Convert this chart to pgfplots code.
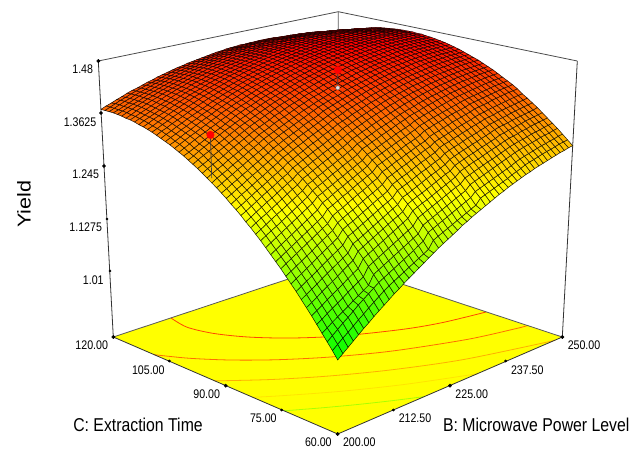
\documentclass[border=0pt]{standalone}
\usepackage{fontspec}
\setmainfont{Liberation Sans}
\usepackage{pgfplots}
\pgfplotsset{compat=1.18}
\pgfplotsset{colormap={ds}{rgb255(0cm)=(0,255,0); rgb255(1cm)=(255,255,0); rgb255(2cm)=(255,0,0)}}
\newcommand{\tl}[1]{\scalebox{.85}[1]{\fontsize{12.5}{13}\selectfont #1}}
\newcommand{\ttl}[1]{\scalebox{.85}[1]{\fontsize{18.6}{20}\selectfont #1}}
\begin{document}
\begin{tikzpicture}[declare function={
 dd(\uu,\vv,\ww)=1+.15*\uu+.15*\vv-.072*\ww;
 px(\uu,\vv,\ww)=337.7+(258.3*\uu-258.1*\vv)/dd(\uu,\vv,\ww);
 py(\uu,\vv,\ww)=434-(111.2*\uu+111.55*\vv+292*\ww)/dd(\uu,\vv,\ww);
}]
\path[use as bounding box] (0,0) rectangle (643pt,448pt);
\begin{axis}[at={(0,0)},anchor=south west,scale only axis,width=643pt,height=448pt,
 xmin=0,xmax=643,ymin=0,ymax=448,y dir=reverse,hide axis,clip=false,
 colormap name=ds,point meta min=1.007,point meta max=1.473]
% floor
\addplot[fill={rgb,255:red,255;green,255;blue,0},draw=none] coordinates {(113.3,337)(337.5,262.7)(562.3,337)(337.7,434)} --cycle;
% contours on the floor: u=(B-200)/50, v=(C-60)/60
\addplot[smooth,line width=.8pt,color={rgb,255:red,170;green,255;blue,0}] table[x expr={px(\thisrow{u},\thisrow{v},0)},y expr={py(\thisrow{u},\thisrow{v},0)}] {
u v
.3547 0
.2608 .05
.1747 .1
.0954 .15
.0214 .2
0 .2155
};
\addplot[smooth,line width=.8pt,color={rgb,255:red,255;green,228;blue,0}] table[x expr={px(\thisrow{u},\thisrow{v},0)},y expr={py(\thisrow{u},\thisrow{v},0)}] {
u v
.5905 0
.3775 .1
.2051 .2
.0603 .3
0 .3465
};
\addplot[smooth,line width=.8pt,color={rgb,255:red,255;green,175;blue,0}] table[x expr={px(\thisrow{u},\thisrow{v},0)},y expr={py(\thisrow{u},\thisrow{v},0)}] {
u v
.9648 0
.6464 .1
.4325 .2
.2652 .3
.1283 .4
.0142 .5
0 .5135
};
\addplot[smooth,line width=.8pt,color={rgb,255:red,255;green,110;blue,0}] table[x expr={px(\thisrow{u},\thisrow{v},0)},y expr={py(\thisrow{u},\thisrow{v},0)}] {
u v
1 .1408
.9541 .15
.7742 .2
.5401 .3
.3719 .4
.2408 .5
.1372 .6
.0567 .7
0 .796
};
\addplot[smooth,line width=.8pt,color={rgb,255:red,255;green,70;blue,0}] table[x expr={px(\thisrow{u},\thisrow{v},0)},y expr={py(\thisrow{u},\thisrow{v},0)}] {
u v
1 .3124
.8294 .35
.6955 .4
.5144 .5
.3892 .6
.3008 .7
.2436 .8
.2186 .9
.2339 1
};
% frame behind the surface
\addplot[color=black!65,line width=.8pt] coordinates {(113.3,337)(337.5,262.7)(562.3,337)};
\addplot[color=black!65,line width=.8pt] coordinates {(338.3,11.7)(337.6,262.7)};
\addplot[color=black!70,line width=.8pt] coordinates {(98.3,61)(338.3,11.7)(577.3,61)};
\addplot[color=black!80,line width=.8pt] coordinates {(98.3,61)(113.3,337)(337.7,434)(562.3,337)(577.3,61)};
% surface: one Yield per line, 51 per row; rows from C=120 down to C=60, in each row B from 200 to 250
\addplot[surf,shader=faceted,mesh/rows=51,mesh/cols=51,faceted color=mapped color!12!black,line width=.5pt,
 point meta=\thisrow{Y}] table[
 x expr={px(mod(\coordindex,51)/50,1-floor((\coordindex+.5)/51)/50,(\thisrow{Y}-.85)/.63)},
 y expr={py(mod(\coordindex,51)/50,1-floor((\coordindex+.5)/51)/50,(\thisrow{Y}-.85)/.63)}] {
Y
% C=120.0
1.373
1.378
1.382
1.387
1.391
1.396
1.400
1.403
1.407
1.411
%
1.414
1.418
1.421
1.424
1.427
1.430
1.432
1.435
1.437
1.439
%
1.441
1.443
1.445
1.447
1.448
1.450
1.451
1.452
1.453
1.453
%
1.454
1.454
1.455
1.455
1.455
1.455
1.454
1.454
1.453
1.453
%
1.452
1.451
1.450
1.448
1.447
1.445
1.444
1.442
1.440
1.438
1.436
% C=118.8
1.373
1.378
1.383
1.388
1.392
1.397
1.401
1.405
1.409
1.412
%
1.415
1.419
1.423
1.426
1.429
1.432
1.434
1.437
1.439
1.441
%
1.443
1.445
1.447
1.449
1.451
1.452
1.453
1.454
1.455
1.456
%
1.457
1.457
1.457
1.458
1.458
1.458
1.457
1.457
1.457
1.456
%
1.456
1.455
1.454
1.453
1.451
1.450
1.449
1.447
1.445
1.443
1.441
% C=117.6
1.373
1.378
1.383
1.388
1.392
1.397
1.401
1.405
1.409
1.413
%
1.416
1.420
1.423
1.427
1.430
1.433
1.435
1.438
1.441
1.443
%
1.445
1.447
1.449
1.451
1.453
1.454
1.455
1.456
1.457
1.458
%
1.459
1.460
1.460
1.460
1.460
1.460
1.460
1.460
1.460
1.460
%
1.459
1.458
1.457
1.456
1.455
1.454
1.452
1.451
1.449
1.447
1.445
% C=116.4
1.373
1.377
1.382
1.387
1.392
1.397
1.401
1.405
1.409
1.413
%
1.417
1.421
1.424
1.427
1.431
1.434
1.436
1.439
1.442
1.444
%
1.446
1.449
1.451
1.452
1.454
1.456
1.457
1.458
1.460
1.461
%
1.462
1.462
1.463
1.463
1.463
1.463
1.463
1.463
1.463
1.463
%
1.463
1.462
1.461
1.460
1.458
1.457
1.456
1.454
1.453
1.451
1.449
% C=115.2
1.372
1.377
1.382
1.387
1.391
1.396
1.401
1.405
1.409
1.413
%
1.417
1.421
1.424
1.428
1.431
1.434
1.437
1.440
1.443
1.445
%
1.447
1.450
1.452
1.454
1.456
1.457
1.459
1.460
1.461
1.462
%
1.464
1.464
1.465
1.465
1.465
1.466
1.466
1.466
1.466
1.465
%
1.465
1.464
1.463
1.462
1.461
1.460
1.459
1.458
1.456
1.454
1.453
% C=114.0
1.371
1.376
1.381
1.386
1.391
1.396
1.400
1.405
1.409
1.413
%
1.417
1.421
1.424
1.428
1.431
1.435
1.438
1.441
1.443
1.446
%
1.448
1.450
1.453
1.455
1.457
1.458
1.460
1.461
1.463
1.464
%
1.465
1.466
1.467
1.467
1.468
1.468
1.468
1.468
1.468
1.468
%
1.468
1.467
1.466
1.465
1.464
1.463
1.462
1.461
1.459
1.458
1.456
% C=112.8
1.369
1.374
1.380
1.385
1.390
1.395
1.399
1.404
1.408
1.412
%
1.416
1.420
1.424
1.428
1.431
1.434
1.438
1.441
1.443
1.446
%
1.448
1.451
1.453
1.455
1.457
1.459
1.461
1.463
1.464
1.465
%
1.466
1.467
1.468
1.469
1.470
1.470
1.470
1.470
1.470
1.470
%
1.470
1.469
1.469
1.468
1.467
1.466
1.465
1.463
1.462
1.461
1.459
% C=111.6
1.368
1.373
1.378
1.383
1.388
1.393
1.398
1.403
1.407
1.412
%
1.415
1.420
1.424
1.427
1.431
1.434
1.438
1.441
1.444
1.446
%
1.449
1.451
1.454
1.456
1.458
1.460
1.462
1.463
1.465
1.466
%
1.467
1.469
1.470
1.470
1.471
1.472
1.472
1.472
1.472
1.472
%
1.472
1.472
1.471
1.470
1.469
1.468
1.467
1.466
1.465
1.463
1.462
% C=110.4
1.366
1.371
1.376
1.381
1.386
1.391
1.396
1.401
1.406
1.410
%
1.414
1.419
1.423
1.426
1.430
1.434
1.437
1.440
1.443
1.446
%
1.448
1.451
1.454
1.456
1.458
1.460
1.462
1.463
1.465
1.466
%
1.468
1.469
1.470
1.471
1.472
1.473
1.473
1.474
1.474
1.474
%
1.474
1.473
1.473
1.472
1.471
1.470
1.469
1.468
1.467
1.466
1.465
% C=109.2
1.363
1.369
1.374
1.379
1.384
1.390
1.395
1.399
1.404
1.409
%
1.413
1.417
1.421
1.425
1.429
1.433
1.436
1.439
1.442
1.445
%
1.448
1.451
1.453
1.456
1.458
1.460
1.462
1.464
1.465
1.467
%
1.469
1.470
1.471
1.472
1.473
1.474
1.474
1.475
1.475
1.475
%
1.475
1.475
1.474
1.474
1.473
1.472
1.471
1.470
1.469
1.468
1.467
% C=108.0
1.361
1.366
1.372
1.377
1.382
1.387
1.392
1.397
1.402
1.407
%
1.411
1.415
1.420
1.424
1.428
1.431
1.435
1.438
1.441
1.444
%
1.447
1.450
1.453
1.455
1.458
1.460
1.462
1.464
1.466
1.467
%
1.469
1.470
1.471
1.472
1.473
1.474
1.475
1.475
1.476
1.476
%
1.476
1.476
1.476
1.475
1.474
1.474
1.473
1.472
1.471
1.470
1.469
% C=106.8
1.358
1.363
1.369
1.374
1.380
1.385
1.390
1.395
1.400
1.405
%
1.409
1.414
1.418
1.422
1.426
1.430
1.434
1.437
1.440
1.443
%
1.446
1.449
1.452
1.455
1.457
1.459
1.461
1.463
1.465
1.467
%
1.468
1.470
1.471
1.472
1.473
1.474
1.475
1.476
1.476
1.476
%
1.477
1.477
1.476
1.476
1.476
1.475
1.474
1.474
1.473
1.471
1.470
% C=105.6
1.355
1.360
1.366
1.371
1.377
1.382
1.387
1.392
1.397
1.402
%
1.407
1.411
1.416
1.420
1.424
1.428
1.432
1.435
1.439
1.442
%
1.445
1.448
1.451
1.453
1.456
1.458
1.461
1.463
1.464
1.466
%
1.468
1.469
1.471
1.472
1.473
1.474
1.475
1.475
1.476
1.476
%
1.477
1.477
1.477
1.477
1.476
1.476
1.475
1.474
1.473
1.472
1.471
% C=104.4
1.351
1.357
1.362
1.368
1.373
1.378
1.384
1.389
1.394
1.399
%
1.404
1.408
1.413
1.417
1.421
1.425
1.429
1.433
1.436
1.440
%
1.443
1.446
1.449
1.452
1.454
1.457
1.459
1.461
1.463
1.465
%
1.467
1.468
1.470
1.471
1.472
1.473
1.474
1.475
1.476
1.476
%
1.477
1.477
1.477
1.477
1.477
1.476
1.476
1.475
1.474
1.473
1.472
% C=103.2
1.347
1.353
1.358
1.364
1.369
1.375
1.380
1.385
1.390
1.395
%
1.401
1.405
1.410
1.414
1.418
1.423
1.427
1.431
1.434
1.438
%
1.441
1.444
1.447
1.450
1.453
1.456
1.458
1.460
1.462
1.464
%
1.466
1.468
1.469
1.471
1.472
1.473
1.474
1.475
1.475
1.476
%
1.476
1.477
1.477
1.477
1.477
1.477
1.476
1.475
1.475
1.474
1.473
% C=102.0
1.343
1.349
1.354
1.360
1.365
1.371
1.376
1.382
1.387
1.392
%
1.398
1.402
1.407
1.412
1.416
1.420
1.424
1.428
1.432
1.435
%
1.438
1.442
1.445
1.448
1.451
1.454
1.456
1.458
1.461
1.463
%
1.464
1.466
1.468
1.469
1.471
1.472
1.473
1.474
1.475
1.475
%
1.476
1.476
1.477
1.477
1.477
1.477
1.476
1.476
1.475
1.474
1.473
% C=100.8
1.339
1.344
1.350
1.356
1.361
1.367
1.373
1.378
1.383
1.389
%
1.394
1.399
1.404
1.408
1.413
1.417
1.421
1.425
1.429
1.433
%
1.436
1.440
1.443
1.446
1.449
1.452
1.454
1.457
1.459
1.461
%
1.463
1.465
1.466
1.468
1.469
1.471
1.472
1.473
1.474
1.474
%
1.475
1.475
1.476
1.476
1.476
1.476
1.476
1.475
1.475
1.474
1.473
% C=99.6
1.334
1.340
1.346
1.352
1.357
1.363
1.368
1.374
1.379
1.385
%
1.390
1.395
1.400
1.404
1.409
1.413
1.418
1.422
1.426
1.429
%
1.433
1.437
1.440
1.443
1.446
1.449
1.452
1.454
1.457
1.459
%
1.461
1.463
1.465
1.466
1.468
1.469
1.470
1.471
1.472
1.473
%
1.474
1.475
1.475
1.475
1.476
1.476
1.475
1.475
1.475
1.474
1.473
% C=98.4
1.329
1.335
1.341
1.347
1.353
1.358
1.364
1.369
1.375
1.380
%
1.386
1.391
1.396
1.400
1.405
1.410
1.414
1.418
1.422
1.426
%
1.430
1.433
1.437
1.440
1.443
1.446
1.449
1.452
1.454
1.456
%
1.458
1.460
1.462
1.464
1.466
1.467
1.469
1.470
1.471
1.472
%
1.472
1.473
1.474
1.474
1.474
1.475
1.474
1.474
1.474
1.473
1.472
% C=97.2
1.324
1.329
1.335
1.341
1.347
1.353
1.359
1.364
1.370
1.376
%
1.382
1.387
1.392
1.396
1.401
1.406
1.410
1.414
1.418
1.422
%
1.426
1.430
1.433
1.437
1.440
1.443
1.446
1.449
1.451
1.453
%
1.456
1.458
1.460
1.462
1.463
1.465
1.466
1.468
1.469
1.470
%
1.471
1.472
1.472
1.473
1.473
1.473
1.473
1.473
1.473
1.472
1.472
% C=96.0
1.318
1.324
1.331
1.337
1.343
1.349
1.355
1.361
1.366
1.372
%
1.377
1.382
1.387
1.392
1.397
1.402
1.406
1.410
1.414
1.418
%
1.422
1.426
1.430
1.433
1.436
1.439
1.442
1.445
1.448
1.450
%
1.453
1.455
1.457
1.459
1.461
1.462
1.464
1.465
1.466
1.468
%
1.469
1.469
1.470
1.471
1.471
1.471
1.471
1.471
1.471
1.471
1.470
% C=94.8
1.312
1.319
1.325
1.331
1.337
1.343
1.349
1.355
1.361
1.367
%
1.372
1.377
1.382
1.387
1.392
1.397
1.402
1.406
1.410
1.414
%
1.418
1.422
1.426
1.429
1.433
1.436
1.439
1.442
1.444
1.447
%
1.449
1.452
1.454
1.456
1.458
1.459
1.461
1.462
1.464
1.465
%
1.466
1.467
1.468
1.468
1.469
1.469
1.469
1.469
1.469
1.469
1.469
% C=93.6
1.306
1.312
1.318
1.325
1.331
1.337
1.343
1.349
1.355
1.361
%
1.367
1.372
1.377
1.382
1.387
1.392
1.397
1.401
1.405
1.409
%
1.414
1.417
1.421
1.425
1.428
1.432
1.435
1.438
1.440
1.443
%
1.446
1.448
1.450
1.452
1.454
1.456
1.458
1.459
1.461
1.462
%
1.464
1.464
1.465
1.466
1.466
1.467
1.467
1.467
1.467
1.467
1.467
% C=92.4
1.299
1.306
1.312
1.318
1.324
1.331
1.337
1.343
1.349
1.355
%
1.361
1.366
1.371
1.376
1.382
1.386
1.391
1.396
1.400
1.404
%
1.409
1.413
1.416
1.420
1.424
1.427
1.430
1.433
1.436
1.439
%
1.442
1.444
1.446
1.449
1.451
1.452
1.454
1.456
1.457
1.459
%
1.461
1.462
1.462
1.463
1.464
1.464
1.464
1.465
1.465
1.465
1.465
% C=91.2
1.292
1.299
1.305
1.311
1.318
1.324
1.330
1.336
1.342
1.348
%
1.355
1.360
1.365
1.371
1.376
1.380
1.385
1.390
1.395
1.399
%
1.404
1.408
1.411
1.415
1.419
1.422
1.425
1.428
1.431
1.434
%
1.438
1.440
1.442
1.445
1.447
1.449
1.450
1.452
1.454
1.455
%
1.457
1.458
1.459
1.460
1.461
1.461
1.462
1.462
1.462
1.463
1.463
% C=90.0
1.285
1.292
1.298
1.304
1.311
1.317
1.323
1.330
1.336
1.342
%
1.349
1.354
1.359
1.364
1.369
1.374
1.379
1.384
1.389
1.393
%
1.398
1.402
1.406
1.410
1.414
1.417
1.421
1.424
1.427
1.430
%
1.433
1.436
1.438
1.441
1.443
1.445
1.447
1.449
1.450
1.452
%
1.454
1.455
1.456
1.457
1.458
1.458
1.459
1.459
1.460
1.460
1.460
% C=88.8
1.278
1.284
1.291
1.297
1.304
1.310
1.317
1.323
1.329
1.335
%
1.342
1.347
1.353
1.358
1.363
1.368
1.373
1.378
1.383
1.388
%
1.393
1.397
1.401
1.405
1.408
1.412
1.416
1.419
1.422
1.425
%
1.428
1.431
1.434
1.436
1.439
1.441
1.443
1.445
1.446
1.448
%
1.450
1.451
1.452
1.453
1.454
1.455
1.455
1.456
1.456
1.457
1.457
% C=87.6
1.270
1.276
1.283
1.289
1.296
1.302
1.309
1.315
1.322
1.328
%
1.335
1.340
1.346
1.351
1.356
1.361
1.367
1.372
1.376
1.381
%
1.387
1.391
1.395
1.399
1.403
1.407
1.410
1.414
1.417
1.420
%
1.423
1.426
1.429
1.431
1.434
1.436
1.438
1.440
1.442
1.444
%
1.446
1.447
1.448
1.449
1.450
1.451
1.452
1.452
1.453
1.453
1.454
% C=86.4
1.262
1.268
1.275
1.281
1.288
1.295
1.301
1.308
1.314
1.321
%
1.328
1.333
1.339
1.344
1.350
1.355
1.360
1.365
1.370
1.375
%
1.380
1.385
1.389
1.393
1.397
1.401
1.405
1.408
1.412
1.415
%
1.418
1.421
1.424
1.426
1.429
1.431
1.433
1.435
1.437
1.439
%
1.441
1.443
1.444
1.445
1.446
1.447
1.448
1.449
1.449
1.450
1.450
% C=85.2
1.253
1.260
1.267
1.273
1.280
1.287
1.293
1.300
1.307
1.313
%
1.321
1.326
1.332
1.337
1.342
1.348
1.353
1.358
1.363
1.368
%
1.374
1.378
1.382
1.387
1.391
1.395
1.398
1.402
1.406
1.409
%
1.412
1.415
1.418
1.421
1.423
1.426
1.428
1.430
1.432
1.434
%
1.436
1.438
1.439
1.441
1.442
1.443
1.444
1.445
1.445
1.446
1.446
% C=84.0
1.245
1.251
1.258
1.265
1.272
1.278
1.285
1.292
1.298
1.305
%
1.313
1.318
1.324
1.329
1.335
1.340
1.345
1.351
1.356
1.361
%
1.367
1.371
1.375
1.380
1.384
1.388
1.392
1.396
1.399
1.403
%
1.406
1.409
1.412
1.415
1.418
1.420
1.423
1.425
1.427
1.429
%
1.431
1.433
1.435
1.436
1.437
1.439
1.440
1.440
1.441
1.442
1.442
% C=82.8
1.236
1.242
1.249
1.256
1.263
1.270
1.276
1.283
1.290
1.296
%
1.305
1.310
1.316
1.321
1.327
1.332
1.337
1.343
1.348
1.353
%
1.360
1.364
1.368
1.373
1.377
1.381
1.385
1.389
1.393
1.397
%
1.400
1.403
1.406
1.409
1.412
1.415
1.417
1.419
1.422
1.424
%
1.426
1.428
1.429
1.431
1.432
1.434
1.435
1.436
1.437
1.437
1.438
% C=81.6
1.226
1.233
1.240
1.247
1.254
1.260
1.267
1.274
1.281
1.287
%
1.296
1.302
1.307
1.313
1.318
1.324
1.329
1.334
1.340
1.345
%
1.352
1.356
1.361
1.365
1.370
1.374
1.378
1.382
1.386
1.390
%
1.393
1.397
1.400
1.403
1.406
1.408
1.411
1.414
1.416
1.418
%
1.420
1.422
1.424
1.425
1.427
1.428
1.429
1.430
1.431
1.432
1.433
% C=80.4
1.217
1.224
1.231
1.237
1.244
1.251
1.258
1.265
1.272
1.278
%
1.288
1.293
1.299
1.304
1.310
1.315
1.321
1.326
1.331
1.337
%
1.344
1.348
1.353
1.357
1.362
1.366
1.370
1.374
1.378
1.382
%
1.386
1.390
1.393
1.396
1.399
1.402
1.405
1.407
1.410
1.412
%
1.414
1.416
1.418
1.420
1.421
1.423
1.424
1.425
1.426
1.427
1.428
% C=79.2
1.207
1.214
1.221
1.228
1.235
1.241
1.248
1.255
1.262
1.269
%
1.279
1.284
1.290
1.295
1.301
1.306
1.312
1.317
1.323
1.328
%
1.336
1.340
1.345
1.349
1.354
1.358
1.362
1.366
1.371
1.375
%
1.379
1.382
1.385
1.389
1.392
1.395
1.398
1.400
1.403
1.405
%
1.408
1.410
1.412
1.414
1.415
1.417
1.418
1.420
1.421
1.422
1.423
% C=78.0
1.197
1.204
1.211
1.217
1.224
1.231
1.238
1.245
1.252
1.259
%
1.269
1.275
1.280
1.286
1.292
1.297
1.303
1.308
1.313
1.319
%
1.328
1.332
1.337
1.341
1.346
1.350
1.354
1.359
1.363
1.367
%
1.372
1.375
1.378
1.382
1.385
1.388
1.391
1.394
1.396
1.399
%
1.401
1.403
1.405
1.407
1.409
1.411
1.412
1.414
1.415
1.416
1.417
% C=76.8
1.186
1.193
1.200
1.207
1.214
1.221
1.228
1.235
1.242
1.249
%
1.260
1.265
1.271
1.276
1.282
1.287
1.293
1.298
1.304
1.309
%
1.319
1.323
1.328
1.332
1.337
1.341
1.346
1.350
1.354
1.358
%
1.364
1.367
1.371
1.374
1.377
1.380
1.383
1.386
1.389
1.392
%
1.394
1.396
1.398
1.400
1.402
1.404
1.406
1.407
1.409
1.410
1.411
% C=75.6
1.175
1.182
1.189
1.196
1.203
1.210
1.217
1.224
1.231
1.238
%
1.250
1.255
1.261
1.267
1.272
1.278
1.283
1.289
1.294
1.300
%
1.310
1.315
1.319
1.324
1.328
1.333
1.337
1.341
1.346
1.350
%
1.356
1.359
1.363
1.366
1.369
1.372
1.375
1.378
1.381
1.384
%
1.387
1.389
1.391
1.393
1.395
1.397
1.399
1.401
1.402
1.404
1.405
% C=74.4
1.164
1.171
1.178
1.185
1.192
1.199
1.206
1.213
1.220
1.227
%
1.240
1.245
1.251
1.257
1.262
1.268
1.274
1.279
1.285
1.290
%
1.301
1.305
1.310
1.314
1.319
1.323
1.328
1.332
1.336
1.341
%
1.348
1.351
1.355
1.358
1.361
1.365
1.368
1.371
1.373
1.376
%
1.380
1.382
1.384
1.386
1.388
1.390
1.392
1.394
1.396
1.397
1.399
% C=73.2
1.153
1.160
1.167
1.174
1.181
1.188
1.195
1.202
1.209
1.216
%
1.229
1.235
1.240
1.246
1.252
1.258
1.263
1.269
1.275
1.280
%
1.291
1.295
1.300
1.305
1.309
1.314
1.318
1.323
1.327
1.331
%
1.338
1.342
1.345
1.349
1.352
1.356
1.359
1.362
1.365
1.368
%
1.372
1.374
1.376
1.378
1.381
1.383
1.385
1.387
1.389
1.390
1.392
% C=72.0
1.141
1.148
1.155
1.162
1.169
1.176
1.184
1.191
1.198
1.205
%
1.218
1.224
1.230
1.235
1.241
1.247
1.253
1.258
1.264
1.270
%
1.281
1.285
1.290
1.295
1.299
1.304
1.309
1.313
1.318
1.322
%
1.329
1.333
1.336
1.340
1.343
1.347
1.350
1.353
1.356
1.360
%
1.363
1.365
1.368
1.370
1.372
1.374
1.376
1.378
1.380
1.382
1.383
% C=70.8
1.129
1.136
1.143
1.150
1.157
1.165
1.172
1.179
1.186
1.193
%
1.207
1.213
1.218
1.224
1.230
1.236
1.242
1.248
1.253
1.259
%
1.270
1.275
1.280
1.284
1.289
1.294
1.299
1.303
1.308
1.312
%
1.320
1.324
1.327
1.331
1.334
1.338
1.341
1.345
1.348
1.351
%
1.355
1.357
1.359
1.362
1.364
1.366
1.368
1.370
1.372
1.374
1.376
% C=69.6
1.117
1.124
1.131
1.138
1.145
1.153
1.160
1.167
1.174
1.181
%
1.196
1.201
1.207
1.213
1.219
1.225
1.231
1.237
1.242
1.248
%
1.260
1.265
1.269
1.274
1.279
1.284
1.288
1.293
1.298
1.302
%
1.310
1.314
1.318
1.321
1.325
1.329
1.332
1.335
1.339
1.342
%
1.346
1.348
1.351
1.353
1.355
1.358
1.360
1.362
1.364
1.366
1.368
% C=68.4
1.104
1.111
1.118
1.125
1.133
1.140
1.147
1.154
1.161
1.168
%
1.184
1.189
1.195
1.201
1.207
1.213
1.219
1.225
1.231
1.237
%
1.249
1.253
1.258
1.263
1.268
1.273
1.278
1.282
1.287
1.292
%
1.300
1.304
1.308
1.312
1.315
1.319
1.322
1.326
1.329
1.333
%
1.337
1.340
1.342
1.344
1.347
1.349
1.351
1.353
1.355
1.357
1.360
% C=67.2
1.091
1.098
1.105
1.113
1.120
1.127
1.134
1.142
1.149
1.156
%
1.172
1.178
1.184
1.190
1.196
1.202
1.208
1.214
1.219
1.225
%
1.238
1.243
1.248
1.252
1.257
1.262
1.267
1.272
1.277
1.281
%
1.290
1.294
1.298
1.302
1.305
1.309
1.313
1.316
1.320
1.323
%
1.328
1.330
1.333
1.335
1.338
1.340
1.343
1.345
1.347
1.349
1.351
% C=66.0
1.078
1.085
1.092
1.100
1.107
1.114
1.121
1.129
1.136
1.143
%
1.160
1.166
1.172
1.178
1.184
1.190
1.196
1.202
1.208
1.214
%
1.227
1.232
1.237
1.241
1.246
1.251
1.256
1.261
1.266
1.271
%
1.280
1.284
1.288
1.292
1.295
1.299
1.303
1.307
1.310
1.314
%
1.318
1.321
1.323
1.326
1.329
1.331
1.334
1.336
1.338
1.340
1.342
% C=64.8
1.064
1.071
1.079
1.086
1.093
1.100
1.108
1.115
1.122
1.129
%
1.147
1.153
1.159
1.165
1.171
1.177
1.183
1.189
1.195
1.201
%
1.215
1.220
1.225
1.230
1.235
1.240
1.245
1.250
1.255
1.259
%
1.269
1.273
1.277
1.281
1.285
1.289
1.292
1.296
1.300
1.304
%
1.308
1.311
1.314
1.316
1.319
1.322
1.324
1.326
1.329
1.331
1.333
% C=63.6
1.050
1.057
1.065
1.072
1.079
1.086
1.094
1.101
1.108
1.115
%
1.134
1.140
1.146
1.152
1.158
1.164
1.170
1.176
1.182
1.188
%
1.203
1.208
1.213
1.218
1.223
1.228
1.233
1.238
1.243
1.248
%
1.258
1.262
1.266
1.270
1.274
1.278
1.282
1.286
1.290
1.294
%
1.298
1.301
1.304
1.307
1.309
1.312
1.315
1.317
1.319
1.322
1.324
% C=62.4
1.036
1.045
1.054
1.063
1.071
1.080
1.089
1.097
1.105
1.113
%
1.121
1.127
1.133
1.139
1.145
1.151
1.157
1.163
1.170
1.176
%
1.191
1.196
1.201
1.206
1.211
1.216
1.221
1.226
1.231
1.236
%
1.246
1.250
1.254
1.258
1.262
1.266
1.270
1.274
1.278
1.283
%
1.287
1.290
1.293
1.296
1.299
1.302
1.304
1.307
1.309
1.312
1.314
% C=61.2
1.022
1.031
1.040
1.048
1.057
1.066
1.074
1.083
1.091
1.099
%
1.107
1.114
1.120
1.126
1.132
1.138
1.144
1.150
1.156
1.162
%
1.178
1.183
1.188
1.193
1.198
1.203
1.208
1.213
1.218
1.223
%
1.235
1.239
1.243
1.247
1.251
1.255
1.259
1.264
1.268
1.272
%
1.277
1.280
1.283
1.286
1.289
1.292
1.294
1.297
1.300
1.302
1.304
% C=60.0
1.007
1.016
1.025
1.034
1.043
1.052
1.060
1.069
1.077
1.085
%
1.093
1.101
1.108
1.116
1.123
1.130
1.137
1.144
1.151
1.158
%
1.165
1.171
1.177
1.183
1.189
1.196
1.201
1.207
1.212
1.217
%
1.222
1.227
1.232
1.237
1.241
1.246
1.250
1.254
1.258
1.262
%
1.265
1.269
1.272
1.275
1.278
1.281
1.284
1.287
1.289
1.292
1.294
};
% design points and their stems to the surface
\addplot[color=black!75,line width=.7pt] table[x expr={px((\thisrow{B}-200)/50,(\thisrow{C}-60)/60,(\thisrow{Y}-.85)/.63)},y expr={py((\thisrow{B}-200)/50,(\thisrow{C}-60)/60,(\thisrow{Y}-.85)/.63)}] {
B C Y
225 90 1.458
225 90 1.42
};
\addplot[color=black!75,line width=.7pt] table[x expr={px((\thisrow{B}-200)/50,(\thisrow{C}-60)/60,(\thisrow{Y}-.85)/.63)},y expr={py((\thisrow{B}-200)/50,(\thisrow{C}-60)/60,(\thisrow{Y}-.85)/.63)}] {
B C Y
200 90 1.384
200 90 1.295
};
\addplot[only marks,mark=*,mark size=2pt,mark options={fill=black!10,draw=black!50}] table[x expr={px((\thisrow{B}-200)/50,(\thisrow{C}-60)/60,(\thisrow{Y}-.85)/.63)},y expr={py((\thisrow{B}-200)/50,(\thisrow{C}-60)/60,(\thisrow{Y}-.85)/.63)}] {
B C Y
225 90 1.42
};
\addplot[only marks,mark=*,mark size=3.8pt,mark options={fill=red,draw=red,line width=.3pt}] table[x expr={px((\thisrow{B}-200)/50,(\thisrow{C}-60)/60,(\thisrow{Y}-.85)/.63)},y expr={py((\thisrow{B}-200)/50,(\thisrow{C}-60)/60,(\thisrow{Y}-.85)/.63)}] {
B C Y
225 90 1.458
200 90 1.384
};
% tick dots
\addplot[only marks,mark=*,mark size=1.7pt,color=black] coordinates {(98.3,61)(113.3,337)(337.7,434)(562.3,337)(225.7,385.7)(450,385.7)(101,113)(104,166)};
\addplot[only marks,mark=*,mark size=1.2pt,color=black] coordinates {(107,219)(110,271)(169.3,361)(281.7,410)(393.3,410)(505.7,361)};
% tick labels
\node at (axis cs:82.7,69.3) {\tl{1.48}};
\node at (axis cs:80,121.7) {\tl{1.3625}};
\node at (axis cs:85.7,174) {\tl{1.245}};
\node at (axis cs:85.7,226.7) {\tl{1.1275}};
\node at (axis cs:93.3,280) {\tl{1.01}};
\node at (axis cs:91.7,345) {\tl{120.00}};
\node at (axis cs:148.3,370) {\tl{105.00}};
\node at (axis cs:206.7,394) {\tl{90.00}};
\node at (axis cs:263.3,418.3) {\tl{75.00}};
\node at (axis cs:318.3,442.3) {\tl{60.00}};
\node at (axis cs:359.3,442.3) {\tl{200.00}};
\node at (axis cs:415,418.3) {\tl{212.50}};
\node at (axis cs:471.7,394) {\tl{225.00}};
\node at (axis cs:527.3,370) {\tl{237.50}};
\node at (axis cs:584,345) {\tl{250.00}};
\node at (axis cs:138,425) {\ttl{C: Extraction Time}};
\node at (axis cs:536.3,425) {\ttl{B: Microwave Power Level}};
\node[rotate=90] at (axis cs:24,204) {\scalebox{1.16}[1]{\fontsize{18.6}{20}\selectfont Yield}};
\end{axis}
\end{tikzpicture}
\end{document}
